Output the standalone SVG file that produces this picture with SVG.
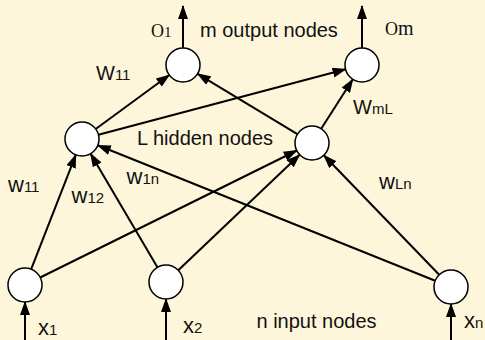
<svg xmlns="http://www.w3.org/2000/svg" width="485" height="340" viewBox="0 0 485 340">
<style>
.n{fill:#fff;stroke:#000;stroke-width:1.5}
.e{stroke:#000;stroke-width:2;fill:none;marker-end:url(#ah)}
.t{font-family:"Liberation Sans",Arial,sans-serif;fill:#111}
.s{font-family:"Liberation Serif","Times New Roman",serif;fill:#111}
</style>
<defs>
<marker id="ah" markerUnits="userSpaceOnUse" markerWidth="14" markerHeight="10" refX="13" refY="5" orient="auto">
<path d="M0,0 L14,5 L0,10 Z" fill="#000"/>
</marker>
</defs>
<rect width="485" height="340" fill="#FDF6DB"/>
<g id="connectors">
<line class="e" x1="183" y1="48" x2="183" y2="6"/>
<line class="e" x1="362" y1="48" x2="362" y2="6"/>
<line class="e" x1="95.7" y1="129" x2="169.3" y2="75"/>
<line class="e" x1="98.4" y1="134.7" x2="345.6" y2="69.3"/>
<line class="e" x1="297.4" y1="134.2" x2="197.6" y2="73.8"/>
<line class="e" x1="321.2" y1="128.7" x2="352.8" y2="79.3"/>
<line class="e" x1="31.2" y1="269.2" x2="75.8" y2="154.8"/>
<line class="e" x1="40.2" y1="277.5" x2="296.8" y2="150.5"/>
<line class="e" x1="157.4" y1="267.3" x2="90.6" y2="153.7"/>
<line class="e" x1="178.3" y1="270.3" x2="299.7" y2="154.7"/>
<line class="e" x1="435.2" y1="280.7" x2="97.8" y2="145.3"/>
<line class="e" x1="439.2" y1="274.7" x2="323.8" y2="155.3"/>
<line class="e" x1="25" y1="345" x2="25" y2="302"/>
<line class="e" x1="166" y1="345" x2="166" y2="299"/>
<line class="e" x1="451" y1="345" x2="451" y2="304"/>
</g>
<g id="o1"><circle class="n" cx="183" cy="65" r="17"/></g>
<g id="om"><circle class="n" cx="362" cy="65" r="17"/></g>
<g id="h1"><circle class="n" cx="82" cy="139" r="17"/></g>
<g id="h2"><circle class="n" cx="312" cy="143" r="17"/></g>
<g id="i1"><circle class="n" cx="25" cy="285" r="17"/></g>
<g id="i2"><circle class="n" cx="166" cy="282" r="17"/></g>
<g id="in"><circle class="n" cx="451" cy="287" r="17"/></g>
<g id="labels">
<text class="s" x="151" y="37" font-size="18">O<tspan font-size="15">1</tspan></text>
<text class="t" x="200" y="37" font-size="20">m output nodes</text>
<text class="s" x="385" y="35" font-size="18">O<tspan font-size="20">m</tspan></text>
<text class="t" x="96" y="80" font-size="20">W<tspan font-size="15">11</tspan></text>
<text class="t" x="353" y="114" font-size="20">W<tspan font-size="15">mL</tspan></text>
<text class="t" x="137" y="145" font-size="20">L hidden nodes</text>
<text class="t" x="8" y="192" font-size="22">w<tspan font-size="15">11</tspan></text>
<text class="t" x="71.5" y="203" font-size="22">w<tspan font-size="15">12</tspan></text>
<text class="t" x="126.5" y="184" font-size="22">w<tspan font-size="15">1n</tspan></text>
<text class="t" x="379" y="189" font-size="22">w<tspan font-size="15">Ln</tspan></text>
<text class="t" x="38" y="335" font-size="22">x<tspan font-size="15">1</tspan></text>
<text class="t" x="183" y="333" font-size="22">x<tspan font-size="15">2</tspan></text>
<text class="t" x="256.5" y="328" font-size="20">n input nodes</text>
<text class="t" x="464" y="328" font-size="22">x<tspan font-size="15">n</tspan></text>
</g>
</svg>
